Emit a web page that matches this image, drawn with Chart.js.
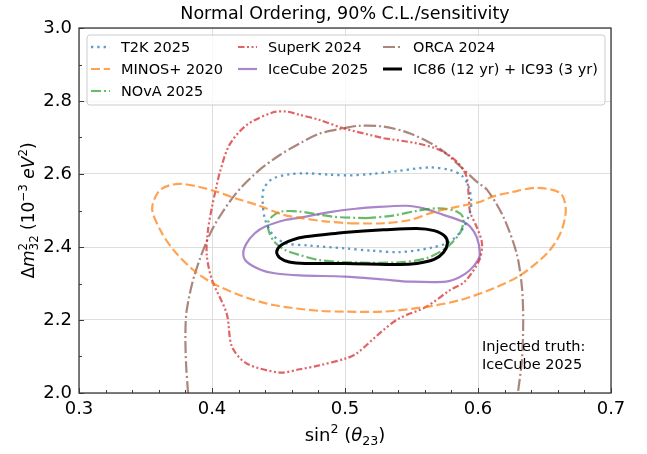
<!DOCTYPE html>
<html>
<head>
<meta charset="UTF-8" />
<title>Normal Ordering contours</title>
<script src="https://cdn.jsdelivr.net/npm/chart.js@4.4.1/dist/chart.umd.min.js"></script>
<style>
  body { margin: 0; background: #fff; }
  #box { width: 647px; height: 454px; }
</style>
</head>
<body>
<div id="box"><canvas id="myChart" width="647" height="454"></canvas></div>
<script>
// contours: [sin^2(theta23), dm2_32]
// closed loops start mid-edge so the spline has no visible seam
const t2k = [[0.504,2.596],[0.520,2.600],[0.539,2.608],[0.564,2.618],[0.579,2.611],[0.588,2.595],[0.593,2.565],
  [0.595,2.520],[0.593,2.484],[0.588,2.447],[0.579,2.415],[0.565,2.398],[0.541,2.386],[0.520,2.390],[0.500,2.396],
  [0.473,2.404],[0.456,2.410],[0.447,2.428],[0.440,2.474],[0.438,2.529],[0.439,2.560],[0.445,2.586],[0.458,2.599],
  [0.470,2.602],[0.489,2.598],[0.504,2.596]];
const minos = [[0.504,2.465],[0.529,2.465],[0.549,2.474],[0.566,2.495],[0.584,2.510],[0.602,2.524],[0.611,2.538],
  [0.625,2.550],[0.644,2.562],[0.662,2.547],[0.666,2.501],[0.662,2.438],[0.652,2.383],[0.632,2.323],[0.612,2.287],
  [0.587,2.255],[0.561,2.236],[0.529,2.223],[0.500,2.223],[0.481,2.225],[0.446,2.241],[0.421,2.268],[0.401,2.300],
  [0.386,2.337],[0.371,2.392],[0.361,2.447],[0.355,2.505],[0.360,2.553],[0.368,2.569],[0.377,2.573],[0.390,2.565],
  [0.404,2.551],[0.418,2.533],[0.434,2.515],[0.454,2.488],[0.466,2.480],[0.485,2.470],[0.504,2.465]];
const nova = [[0.516,2.479],[0.536,2.486],[0.554,2.499],[0.571,2.506],[0.584,2.497],[0.589,2.479],[0.587,2.442],
  [0.580,2.410],[0.574,2.392],[0.561,2.369],[0.541,2.358],[0.504,2.358],[0.481,2.364],[0.466,2.378],[0.455,2.392],
  [0.447,2.414],[0.443,2.440],[0.442,2.465],[0.445,2.483],[0.452,2.497],[0.466,2.497],[0.491,2.483],[0.516,2.479]];
const superk = [[0.529,2.698],[0.554,2.684],[0.571,2.666],[0.584,2.634],[0.591,2.597],[0.593,2.542],[0.594,2.497],
  [0.599,2.455],[0.603,2.410],[0.601,2.364],[0.590,2.305],[0.579,2.282],[0.561,2.236],[0.541,2.205],[0.529,2.173],
  [0.509,2.109],[0.501,2.095],[0.481,2.076],[0.466,2.065],[0.451,2.056],[0.426,2.081],[0.415,2.127],[0.411,2.218],
  [0.400,2.310],[0.396,2.380],[0.397,2.447],[0.400,2.510],[0.403,2.560],[0.406,2.606],[0.413,2.679],[0.426,2.734],
  [0.446,2.769],[0.456,2.771],[0.466,2.762],[0.481,2.748],[0.499,2.725],[0.529,2.698]];
const icecube = [[0.516,2.508],[0.546,2.513],[0.559,2.506],[0.574,2.488],[0.589,2.469],[0.594,2.456],[0.599,2.428],
  [0.6015,2.383],[0.600,2.364],[0.594,2.337],[0.586,2.317],[0.576,2.305],[0.549,2.305],[0.529,2.311],[0.500,2.319],
  [0.466,2.322],[0.447,2.328],[0.437,2.337],[0.426,2.360],[0.4235,2.383],[0.426,2.410],[0.432,2.437],[0.440,2.456],
  [0.455,2.474],[0.467,2.481],[0.491,2.497],[0.516,2.508]];
const orca = [[0.382,2.000],[0.3805,2.080],[0.380,2.163],[0.381,2.227],[0.387,2.325],[0.400,2.447],[0.417,2.542],
  [0.434,2.606],[0.451,2.652],[0.466,2.684],[0.481,2.711],[0.499,2.725],[0.510,2.732],[0.529,2.730],[0.549,2.711],
  [0.571,2.670],[0.587,2.620],[0.599,2.579],[0.607,2.556],[0.619,2.483],[0.629,2.383],[0.633,2.291],[0.634,2.200],
  [0.633,2.090],[0.630,2.000]];
const ic86 = [[0.499,2.440],[0.529,2.447],[0.554,2.451],[0.567,2.445],[0.575,2.430],[0.577,2.410],[0.574,2.385],
  [0.567,2.366],[0.554,2.355],[0.541,2.352],[0.500,2.355],[0.470,2.355],[0.458,2.359],[0.451,2.370],[0.4486,2.387],
  [0.452,2.405],[0.460,2.419],[0.470,2.428],[0.499,2.440]];

const seriesNames = ['T2K 2025', 'MINOS+ 2020', 'NOvA 2025', 'SuperK 2024', 'IceCube 2025', 'ORCA 2024', 'IC86 (12 yr) + IC93 (3 yr)'];
const xTicks = [0.3, 0.4, 0.5, 0.6, 0.7];
const yTicks = [2.0, 2.2, 2.4, 2.6, 2.8, 3.0];
const titleText = 'Normal Ordering, 90% C.L./sensitivity';
const noteLines = ['Injected truth:', 'IceCube 2025'];

const FONT = '"DejaVu Sans", sans-serif';

function line(name, pts, color, dash, width, order) {
  return {
    label: name,
    data: pts.map(p => ({x: p[0], y: p[1]})),
    showLine: true,
    borderColor: color,
    borderDash: dash,
    borderWidth: width,
    pointRadius: 0,
    tension: 0.3,
    fill: false,
    order: order
  };
}

const datasets = [
  line(seriesNames[0], t2k, 'rgba(31,119,180,0.72)', [2.3, 4], 2.3, 1),
  line(seriesNames[1], minos, 'rgba(255,127,14,0.72)', [9, 3.8], 2.2, 2),
  line(seriesNames[2], nova, 'rgba(44,160,44,0.72)', [10, 3, 2, 3], 2.2, 3),
  line(seriesNames[3], superk, 'rgba(214,39,40,0.72)', [6.5, 2.5, 2, 2.5, 2, 2.5], 2.2, 4),
  line(seriesNames[4], icecube, 'rgba(148,103,189,0.8)', [], 2.2, 5),
  line(seriesNames[5], orca, 'rgba(140,86,75,0.72)', [12, 3, 2, 3], 2.2, 6),
  line(seriesNames[6], ic86, '#000000', [], 3, 0)
];

// text with super/subscripts, like matplotlib mathtext
function mathWidth(ctx, parts, size) {
  let w = 0;
  parts.forEach(p => {
    ctx.font = (p.it ? 'italic ' : '') + (size * (p.sc || 1)) + 'px ' + FONT;
    if (!p.noAdv) w += ctx.measureText(p.t).width;
  });
  return w;
}
function drawMath(ctx, parts, cx, base, size) {
  let x = cx - mathWidth(ctx, parts, size) / 2;
  ctx.textAlign = 'left';
  ctx.textBaseline = 'alphabetic';
  parts.forEach(p => {
    ctx.font = (p.it ? 'italic ' : '') + (size * (p.sc || 1)) + 'px ' + FONT;
    ctx.fillText(p.t, x, base + (p.dy || 0) * size);
    if (!p.noAdv) x += ctx.measureText(p.t).width;
  });
}

const xLabel = [{t: 'sin'}, {t: '2', sc: 0.7, dy: -0.42}, {t: ' '}, {t: '('}, {t: 'θ', it: 1},
  {t: '23', sc: 0.7, dy: 0.22}, {t: ')'}];
const yLabel = [{t: 'Δ'}, {t: 'm', it: 1}, {t: '2', sc: 0.7, dy: -0.42, noAdv: 1}, {t: '32', sc: 0.7, dy: 0.24},
  {t: ' (10'}, {t: '−3', sc: 0.7, dy: -0.42}, {t: ' '}, {t: 'eV', it: 1}, {t: '2', sc: 0.7, dy: -0.42}, {t: ')'}];

// legend columns as matplotlib lays them out
const legendCols = [[0, 1, 2], [3, 4], [5, 6]];

const decor = {
  id: 'decor',
  afterDraw(chart) {
    const ctx = chart.ctx;
    const a = chart.chartArea;
    const xs = chart.scales.x, ys = chart.scales.y;
    ctx.save();

    // frame
    ctx.strokeStyle = '#3a3a3a';
    ctx.lineWidth = 1.3;
    ctx.strokeRect(a.left, a.top, a.right - a.left, a.bottom - a.top);

    // inward ticks, major and minor
    ctx.lineWidth = 1;
    for (let i = 0; i <= 20; i++) {
      const px = Math.round(xs.getPixelForValue(0.3 + i * 0.02)) + 0.5;
      const len = i % 5 === 0 ? 5 : 3;
      ctx.beginPath(); ctx.moveTo(px, a.bottom); ctx.lineTo(px, a.bottom - len); ctx.stroke();
    }
    for (let i = 0; i <= 10; i++) {
      const py = Math.round(ys.getPixelForValue(2.0 + i * 0.1)) + 0.5;
      const len = i % 2 === 0 ? 5 : 3;
      ctx.beginPath(); ctx.moveTo(a.left, py); ctx.lineTo(a.left + len, py); ctx.stroke();
    }

    // title
    ctx.fillStyle = '#000';
    ctx.font = '17.5px ' + FONT;
    ctx.textAlign = 'center';
    ctx.textBaseline = 'alphabetic';
    ctx.fillText(titleText, (a.left + a.right) / 2, 19);

    // axis titles
    drawMath(ctx, xLabel, (a.left + a.right) / 2, 441, 18);
    ctx.save();
    ctx.translate(34, (a.top + a.bottom) / 2);
    ctx.rotate(-Math.PI / 2);
    drawMath(ctx, yLabel, 0, 0, 17);
    ctx.restore();

    // note
    ctx.font = '14.5px ' + FONT;
    ctx.textAlign = 'left';
    ctx.fillText(noteLines[0], 482, 351);
    ctx.fillText(noteLines[1], 482, 368.5);

    // legend box
    ctx.beginPath();
    ctx.roundRect(87, 35, 518, 70, 3);
    ctx.fillStyle = 'rgba(255,255,255,0.8)';
    ctx.fill();
    ctx.strokeStyle = '#cccccc';
    ctx.lineWidth = 1;
    ctx.stroke();

    const colX = [91, 238, 383];
    const rowY = [47, 69, 91];
    ctx.font = '14.5px ' + FONT;
    ctx.textBaseline = 'middle';
    legendCols.forEach((col, c) => {
      col.forEach((di, rIdx) => {
        const ds = chart.data.datasets[di];
        const y = rowY[rIdx];
        ctx.beginPath();
        ctx.setLineDash(ds.borderDash);
        ctx.strokeStyle = ds.borderColor;
        ctx.lineWidth = ds.borderWidth;
        ctx.moveTo(colX[c], y);
        ctx.lineTo(colX[c] + 19, y);
        ctx.stroke();
        ctx.setLineDash([]);
        ctx.fillStyle = '#000';
        ctx.fillText(ds.label, colX[c] + 30, y + 1);
      });
    });
    ctx.restore();
  }
};

const ctx = document.getElementById('myChart').getContext('2d');
const myChart = new Chart(ctx, {
  type: 'scatter',
  data: { datasets: datasets },
  options: {
    responsive: false,
    animation: false,
    devicePixelRatio: 1,
    layout: { padding: { top: 28, right: 36, left: 0, bottom: 0 } },
    plugins: { legend: { display: false }, tooltip: { enabled: false }, title: { display: false } },
    scales: {
      x: {
        type: 'linear', min: 0.3, max: 0.7,
        afterBuildTicks: s => { s.ticks = xTicks.map(v => ({value: v})); },
        afterFit: s => { s.height = 61; },
        ticks: { callback: v => v.toFixed(1), color: '#000', padding: 6, font: { size: 18, family: FONT } },
        grid: { color: '#dddddd', lineWidth: 1, drawTicks: false },
        border: { display: false }
      },
      y: {
        type: 'linear', min: 2.0, max: 3.0,
        afterBuildTicks: s => { s.ticks = yTicks.map(v => ({value: v})); },
        afterFit: s => { s.width = 79; },
        ticks: { callback: v => v.toFixed(1), color: '#000', padding: 7, font: { size: 18, family: FONT } },
        grid: { color: '#dddddd', lineWidth: 1, drawTicks: false },
        border: { display: false }
      }
    }
  },
  plugins: [decor]
});
</script>
</body>
</html>
